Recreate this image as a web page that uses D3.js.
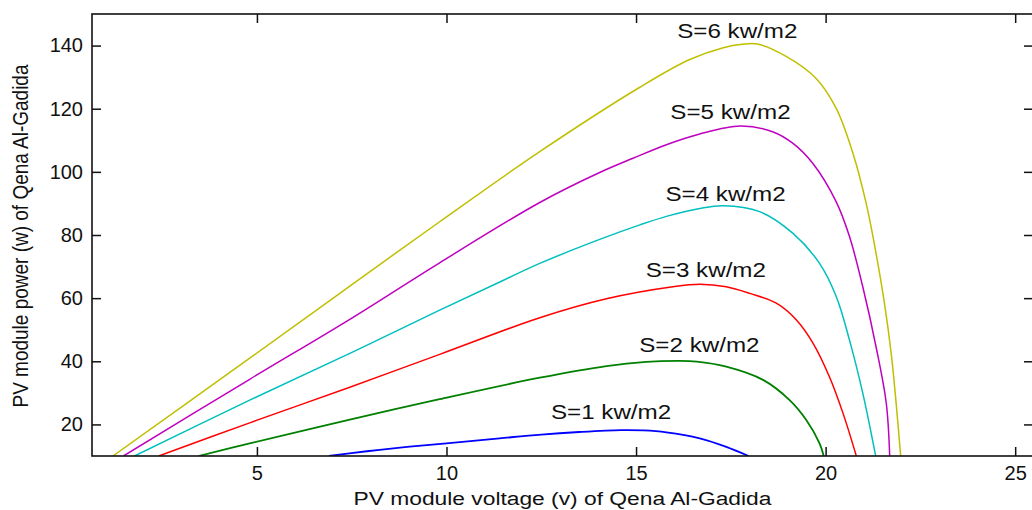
<!DOCTYPE html>
<html>
<head>
<meta charset="utf-8">
<script src="https://cdn.jsdelivr.net/npm/d3@7"></script>
<style>
  html, body { margin: 0; padding: 0; background: #fff; }
  svg { display: block; }
  text { font-family: "Liberation Sans", Arial, sans-serif; fill: #111; }
</style>
</head>
<body>
<svg id="chart" width="1032" height="510"></svg>
<script>
// ---- data ----
const seriesNames = ["S=1 kw/m2", "S=2 kw/m2", "S=3 kw/m2", "S=4 kw/m2", "S=5 kw/m2", "S=6 kw/m2"];
const seriesColors = ["#0000ff", "#008000", "#ff0000", "#00bfbf", "#bf00bf", "#bfbf00"];

const v1 = [6.9, 7.9, 8.9, 10.0, 11.4, 12.5, 13.5, 14.6, 15.2, 15.8, 16.68, 17.38, 17.97];
const p1 = [10, 11.5, 12.8, 14.0, 15.6, 16.8, 17.6, 18.2, 18.1, 17.5, 15.6, 12.9, 10];

const v2 = [3.46, 4.81, 7.45, 9.82, 12.46, 14.22, 15.27, 16.1, 16.6, 17.38, 18.35, 19.05, 19.49, 19.84, 19.95];
const p2 = [10, 14.0, 21.5, 28.0, 34.8, 38.5, 39.8, 40.1, 39.9, 38.3, 34.1, 27.7, 21.4, 14, 10];

const v3 = [2.41, 4.81, 7.45, 9.82, 12.46, 14.22, 15.97, 16.68, 17.38, 18.0, 18.7, 19.23, 19.67, 20.1, 20.46, 20.81];
const p3 = [10, 20.5, 31.8, 42.2, 53.8, 59.8, 63.6, 64.4, 63.6, 61.5, 58.4, 53.1, 45.7, 35.1, 23.5, 10];

const v4 = [1.77, 4.81, 7.45, 9.82, 11.49, 12.46, 14.04, 15.1, 15.8, 16.68, 17.3, 18.26, 19.14, 19.84, 20.28, 20.63, 20.98, 21.32];
const p4 = [10, 27.7, 42.5, 56.2, 65.6, 71.0, 78.6, 83.2, 85.9, 88.4, 89.3, 87.4, 80.5, 71, 60.5, 46.7, 29.9, 10];

const v5 = [1.48, 4.81, 7.45, 9.82, 12.46, 14.04, 14.92, 15.8, 16.68, 17.75, 18.6, 19.14, 19.66, 20.28, 20.63, 20.98, 21.33, 21.6, 21.69];
const p5 = [10, 34.3, 53.3, 71.2, 90.3, 99.8, 104.3, 108.6, 112.0, 114.5, 112.7, 109, 102.7, 90.5, 79.5, 63.6, 44.6, 26.7, 10];

const v6 = [1.2, 4.81, 7.45, 9.82, 12.46, 15.1, 16.4, 17.3, 17.8, 18.2, 18.97, 19.75, 20.28, 20.72, 21.07, 21.33, 21.55, 21.73, 21.86, 21.98];
const p6 = [10, 41.0, 63.8, 84.2, 106.4, 126.8, 135.5, 139.3, 140.4, 140.5, 136.5, 129.6, 120.1, 105.9, 90, 74.2, 58.5, 42.5, 26.7, 10];

const labelV = [14.34, 16.67, 16.84, 17.36, 17.49, 17.67];
const labelP = [23.8, 45.0, 68.8, 93.0, 118.8, 144.5];

const xTicks = [5, 10, 15, 20, 25];
const yTicks = [20, 40, 60, 80, 100, 120, 140];
const xDomain = [0.65, 25.47];
const yDomain = [10, 150];
const xLabel = "PV module voltage (v) of Qena Al-Gadida";
const yLabel = "PV module power (w) of Qena Al-Gadida";

// ---- layout ----
const svg = d3.select("#chart");
const mL = 92, mR = 1033, mT = 14, mB = 456;
const x = d3.scaleLinear().domain(xDomain).range([mL, mR]);
const y = d3.scaleLinear().domain(yDomain).range([mB, mT]);
const tickLen = 9;
const stretch = 1.18;

svg.append("defs").append("clipPath").attr("id", "plotclip")
  .append("rect").attr("x", mL).attr("y", mT).attr("width", mR - mL).attr("height", mB - mT);

const Vs = [v1, v2, v3, v4, v5, v6];
const Ps = [p1, p2, p3, p4, p5, p6];

const line = d3.line().x(d => x(d[0])).y(d => y(d[1])).curve(d3.curveCatmullRom.alpha(0.5));

const g = svg.append("g").attr("clip-path", "url(#plotclip)");
Vs.forEach((vs, i) => {
  const pts = vs.map((v, j) => [v, Ps[i][j]]);
  g.append("path").datum(pts)
    .attr("d", line)
    .attr("fill", "none")
    .attr("stroke", seriesColors[i])
    .attr("stroke-width", i < 2 ? 1.8 : 1.5);
});

// axes
const fs = "20px";
const axB = d3.axisBottom(x).tickValues(xTicks).tickSizeInner(-tickLen).tickSizeOuter(0).tickPadding(10).tickFormat(d3.format("d"));
const axT = d3.axisTop(x).tickValues(xTicks).tickSizeInner(-tickLen).tickSizeOuter(0).tickFormat("");
const axL = d3.axisLeft(y).tickValues(yTicks).tickSizeInner(-tickLen).tickSizeOuter(0).tickPadding(9).tickFormat(d3.format("d"));
const axR = d3.axisRight(y).tickValues(yTicks).tickSizeInner(-tickLen).tickSizeOuter(0).tickFormat("");

function style(sel) {
  sel.select(".domain").remove();
  sel.selectAll(".tick line").attr("stroke", "#111").attr("stroke-width", 1.5);
  sel.selectAll(".tick text").style("font-size", fs).attr("fill", "#111");
}
svg.append("g").attr("transform", `translate(0,${mB})`).call(axB).call(style);
svg.append("g").attr("transform", `translate(0,${mT})`).call(axT).call(style);
svg.append("g").attr("transform", `translate(${mL},0)`).call(axL).call(style);
svg.append("g").attr("transform", `translate(${mR},0)`).call(axR).call(style);

// frame
svg.append("rect").attr("x", mL).attr("y", mT).attr("width", mR - mL).attr("height", mB - mT)
  .attr("fill", "none").attr("stroke", "#111").attr("stroke-width", 1.6);

// curve labels
seriesNames.forEach((name, i) => {
  svg.append("text")
    .attr("transform", `translate(${x(labelV[i])},${y(labelP[i])}) scale(${stretch},1)`)
    .attr("text-anchor", "middle").attr("dominant-baseline", "central")
    .style("font-size", "20.5px")
    .text(name);
});

// axis titles
svg.append("text")
  .attr("transform", `translate(${(mL + mR) / 2},505) scale(1.2,1)`)
  .attr("text-anchor", "middle").style("font-size", "19px")
  .text(xLabel);
svg.append("text")
  .attr("transform", `translate(27.5,236) rotate(-90) scale(1,${stretch})`)
  .attr("text-anchor", "middle").style("font-size", "19px")
  .text(yLabel);
</script>
</body>
</html>
